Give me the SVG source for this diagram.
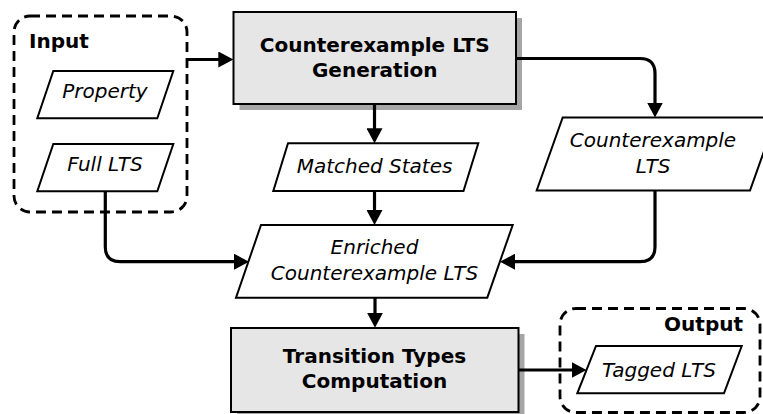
<svg xmlns="http://www.w3.org/2000/svg" width="763" height="414" viewBox="0 0 763 414">
  <style>
    .group { fill: none; stroke: #000; stroke-width: 2.8; stroke-dasharray: 10 6; }
    .proc { fill: #e6e6e6; stroke: #000; stroke-width: 2; }
    .shadow { fill: #a6a6a6; stroke: none; }
    .data { fill: #fff; stroke: #000; stroke-width: 2; stroke-linejoin: miter; }
    .conn { fill: none; stroke: #000; stroke-width: 3.2; marker-end: url(#arrow); }
    .bold { font-family: "DejaVu Sans", sans-serif; font-weight: bold; font-size: 20px; fill: #000; }
    .ital { font-family: "DejaVu Sans", sans-serif; font-style: italic; font-size: 20px; fill: #000; text-anchor: middle; }
    .mid { text-anchor: middle; }
  </style>
  <defs>
    <marker id="arrow" viewBox="0 0 15 16" refX="10" refY="8" markerWidth="15" markerHeight="16" markerUnits="userSpaceOnUse" orient="auto">
      <path d="M0,0 L15,8 L0,16 Z" fill="#000"/>
    </marker>
  </defs>

  <g id="input-group">
    <rect class="group" x="14" y="16" width="173" height="196" rx="16" ry="16"/>
    <text class="bold" x="29" y="48.3">Input</text>
  </g>

  <g id="property">
    <polygon class="data" points="53.3,71 173.3,71 157.3,118.3 37.3,118.3"/>
    <text class="ital" x="105" y="98.3">Property</text>
  </g>

  <g id="full-lts">
    <polygon class="data" points="53.3,144 173.3,144 157.3,191.3 37.3,191.3"/>
    <text class="ital" x="105" y="171">Full LTS</text>
  </g>

  <g id="ce-generation">
    <rect class="shadow" x="239.5" y="18" width="282.5" height="92"/>
    <rect class="proc" x="233.5" y="12" width="282.5" height="92"/>
    <text class="bold mid" x="374.7" y="52.3">Counterexample LTS</text>
    <text class="bold mid" x="374.7" y="76.7">Generation</text>
  </g>

  <g id="matched-states">
    <polygon class="data" points="288,143.3 478.3,143.3 463.5,191 273.3,191"/>
    <text class="ital" x="374.5" y="173.3">Matched States</text>
  </g>

  <g id="ce-lts">
    <polygon class="data" points="562.7,117.5 776,117.5 750,190.5 536.7,190.5"/>
    <text class="ital" x="653" y="146.7">Counterexample</text>
    <text class="ital" x="653" y="172.7">LTS</text>
  </g>

  <g id="enriched">
    <polygon class="data" points="261,225 512.7,225 487.3,297.7 236,297.7"/>
    <text class="ital" x="374.5" y="254.3">Enriched</text>
    <text class="ital" x="374.5" y="280">Counterexample LTS</text>
  </g>

  <g id="transition-types">
    <rect class="shadow" x="237" y="334" width="287.5" height="84"/>
    <rect class="proc" x="231" y="328" width="287.5" height="84"/>
    <text class="bold mid" x="374.5" y="363.3">Transition Types</text>
    <text class="bold mid" x="374.5" y="388.3">Computation</text>
  </g>

  <g id="output-group">
    <rect class="group" x="560" y="308.5" width="200" height="104" rx="16" ry="16"/>
    <text class="bold" x="743" y="331" text-anchor="end">Output</text>
  </g>

  <g id="tagged-lts">
    <polygon class="data" points="596,346 741.7,346 724,393.3 577.3,393.3"/>
    <text class="ital" x="659" y="376.7">Tagged LTS</text>
  </g>

  <g id="connectors">
    <path class="conn" d="M187,59.5 H228.3"/>
    <path class="conn" d="M374.5,104 V138.3"/>
    <path class="conn" d="M516,58.5 H640 Q655,58.5 655,73.5 V112.5"/>
    <path class="conn" d="M374.5,191 V220"/>
    <path class="conn" d="M105.3,191.3 V246.7 Q105.3,261.7 120.3,261.7 H244"/>
    <path class="conn" d="M655,190.5 V246.7 Q655,261.7 640,261.7 H505"/>
    <path class="conn" d="M375,297.7 V322.7"/>
    <path class="conn" d="M518.5,370 H581.5"/>
  </g>
</svg>
